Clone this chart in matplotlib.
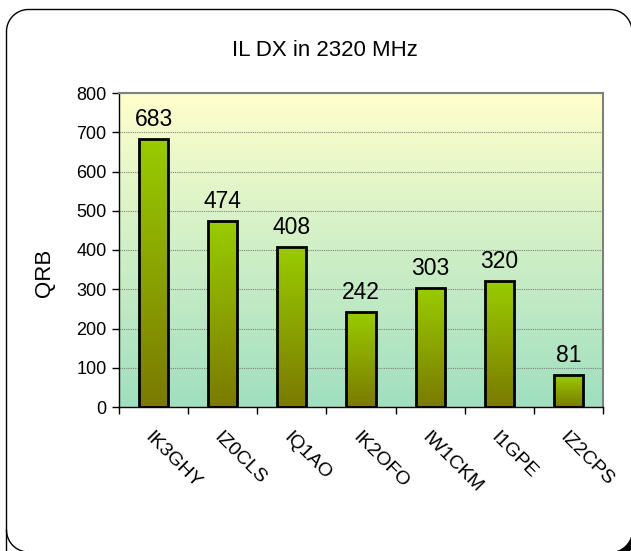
import numpy as np
import matplotlib
matplotlib.use('Agg')
import matplotlib.pyplot as plt
from matplotlib.colors import LinearSegmentedColormap
from matplotlib.lines import Line2D
from matplotlib.patches import Polygon
from matplotlib.transforms import IdentityTransform

categories = ["IK3GHY", "IZ0CLS", "IQ1AO", "IK2OFO", "IW1CKM", "I1GPE", "IZ2CPS"]
values = [683, 474, 408, 242, 303, 320, 81]
yticks = [0, 100, 200, 300, 400, 500, 600, 700, 800]
title = "IL DX in 2320 MHz"
ylabel = "QRB"

plt.rcParams['font.family'] = ['Liberation Sans', 'DejaVu Sans']

W, H = 631, 551
fig = plt.figure(figsize=(W / 100, H / 100), dpi=100)


def arc(cx, cy, r, a0, a1, k=30):
    t = np.radians(np.linspace(a0, a1, k))
    return cx + r * np.cos(t), cy + r * np.sin(t)


# rounded frame outline in display pixels (y up)
L, T, R, B, r = 6.5, H - 9.5, 632.0, -1.0, 22.0
xs, ys = [L], [-20.0]
ax_, ay_ = arc(L + r, B + r, r, 180, 180, 2)
xs += [L]; ys += [B + r]
cx, cy = arc(L + r, T - r, r, 180, 90)
xs += list(cx); ys += list(cy)
cx, cy = arc(R - r, T - r, r, 90, 0)
xs += list(cx); ys += list(cy)
xs += [R]; ys += [-20.0]
fig.add_artist(Line2D(xs, ys, transform=IdentityTransform(), color='black',
                      linewidth=1.0, zorder=1))
# bottom-left rounded corner
cx, cy = arc(L + r, B + r, r, 180, 270)
fig.add_artist(Line2D(cx, cy, transform=IdentityTransform(), color='black',
                      linewidth=1.0, zorder=1))
# shadow crescent at bottom-right corner
d = 5.0
fx, fy = arc(R - r, B + r, r, 0, -90)
sx, sy = arc(R - r + d, B + r - d, r, -90, 0)
poly = np.column_stack([np.concatenate([fx, sx]), np.concatenate([fy, sy])])
fig.add_artist(Polygon(poly, closed=True, transform=IdentityTransform(),
                       facecolor='black', edgecolor='none', zorder=0))

ax = fig.add_axes([119 / W, (H - 407) / H, 484 / W, 314 / H])
ax.set_zorder(2)
n = len(categories)
x = np.arange(n)

bg_cmap = LinearSegmentedColormap.from_list('bg', ['#A0DFC0', '#FFFFCC'])
grad = np.linspace(0, 1, 256).reshape(-1, 1)
ax.imshow(grad, extent=[-0.5, n - 0.5, 0, 800], aspect='auto', cmap=bg_cmap,
          origin='lower', zorder=0)

bar_cmap = LinearSegmentedColormap.from_list('bar', ['#7A7A00', '#99CC00'])
bars = ax.bar(x, values, width=0.42, facecolor='none', edgecolor='black',
              linewidth=2, zorder=3)
for b in bars:
    x0, y0 = b.get_x(), b.get_y()
    im = ax.imshow(grad, extent=[x0, x0 + b.get_width(), y0, y0 + b.get_height()],
                   aspect='auto', cmap=bar_cmap, origin='lower', zorder=2)
    im.set_clip_path(b)
ax.set_xlim(-0.5, n - 0.5)
ax.set_ylim(0, 800)

for xi, v in zip(x, values):
    ax.annotate(str(v), (xi, v), xytext=(0, 6), textcoords='offset points',
                ha='center', va='bottom', fontsize=16.5, color='black')

ax.set_axisbelow(True)
ax.yaxis.grid(True, linestyle=(0, (1, 1)), color='#808080', linewidth=0.8, zorder=0.5)

ax.set_yticks(yticks)
ax.set_yticklabels([str(t) for t in yticks], fontsize=13)
ax.tick_params(axis='y', direction='out', length=5, width=1, pad=4)

ax.set_xticks(x)
ax.set_xticklabels(categories, rotation=-45, ha='left', va='top',
                   rotation_mode='anchor', fontsize=14)
ax.set_xticks(np.arange(-0.5, n, 1.0), minor=True)
ax.tick_params(axis='x', which='major', length=0, pad=16)
ax.tick_params(axis='x', which='minor', direction='out', length=5, width=1)

for s in ['left', 'bottom']:
    ax.spines[s].set_color('black')
    ax.spines[s].set_linewidth(1)
for s in ['top', 'right']:
    ax.spines[s].set_color('#808080')
    ax.spines[s].set_linewidth(1.5)

fig.text(44 / W, 1 - 273 / H, ylabel, ha='center', va='center', rotation=90, fontsize=16)
fig.text(325 / W, 1 - 50 / H, title, ha='center', va='center', fontsize=16)

fig.savefig('out.png', dpi=100)
